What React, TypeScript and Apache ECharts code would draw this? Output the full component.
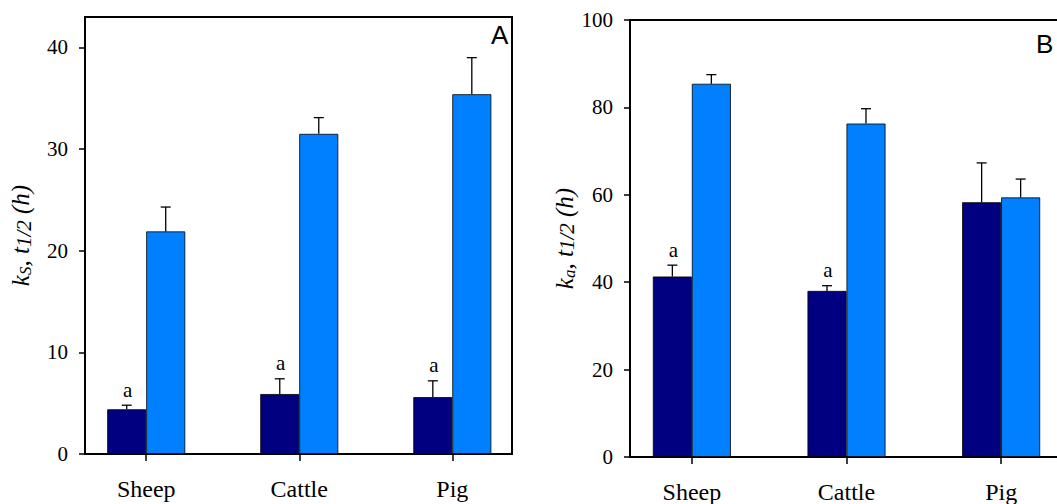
import React, { useEffect, useRef } from "react";
import * as echarts from "echarts";

const categories = ["Sheep", "Cattle", "Pig"];
const catPos = [1, 2, 3];

// Panel A: ks, t1/2 (h)
const ksDark = [4.4, 5.9, 5.6];
const ksDarkErr = [0.4, 1.5, 1.6];
const ksLight = [21.9, 31.5, 35.4];
const ksLightErr = [2.4, 1.6, 3.6];
const ksMarks = ["a", "a", "a"];
const ksTicks = [0, 10, 20, 30, 40];

// Panel B: ka, t1/2 (h)
const kaDark = [41.3, 38.0, 58.3];
const kaDarkErr = [2.6, 1.2, 9.0];
const kaLight = [85.4, 76.3, 59.4];
const kaLightErr = [2.1, 3.4, 4.2];
const kaMarks = ["a", "a", ""];
const kaTicks = [0, 20, 40, 60, 80, 100];

const SERIF = "Liberation Serif";
const SANS = "Liberation Sans";
const DARK = "#000080";
const LIGHT = "#0080ff";
const BAR_W = 39;

function nameRich() {
  return {
    k: { fontFamily: SERIF, fontStyle: "italic", fontSize: 25, color: "#000", lineHeight: 26, verticalAlign: "top" },
    s: { fontFamily: SERIF, fontStyle: "italic", fontSize: 17, color: "#000", lineHeight: 17, padding: [14, 0, 0, 0], verticalAlign: "bottom" },
    h: { fontFamily: SERIF, fontStyle: "italic", fontSize: 21, color: "#000", lineHeight: 21, padding: [10, 0, 0, 0], verticalAlign: "bottom" },
  };
}

function errSeries(xi: number, vals: number[], errs: number[], marks: string[] | null, offset: number) {
  return {
    type: "custom",
    xAxisIndex: xi,
    yAxisIndex: xi,
    z: 5,
    data: catPos.map((x, i) => [x, vals[i], errs[i]]),
    renderItem: (params: any, api: any) => {
      const x = api.value(0);
      const v = api.value(1);
      const e = api.value(2);
      const base = api.coord([x, v]);
      const top = api.coord([x, v + e]);
      const px = base[0] + offset;
      const children: any[] = [
        { type: "line", shape: { x1: px, y1: base[1], x2: px, y2: top[1] }, style: { stroke: "#000", lineWidth: 1.3 } },
        { type: "line", shape: { x1: px - 5, y1: top[1], x2: px + 5, y2: top[1] }, style: { stroke: "#000", lineWidth: 1.3 } },
      ];
      const m = marks ? marks[params.dataIndex] : "";
      if (m) {
        children.push({
          type: "text",
          style: { text: m, x: px + 1, y: top[1] - 5, align: "center", verticalAlign: "bottom", fontFamily: SERIF, fontSize: 21, fill: "#000" },
        });
      }
      return { type: "group", children };
    },
  };
}

function barSeries(xi: number, vals: number[], color: string) {
  return {
    type: "bar",
    xAxisIndex: xi,
    yAxisIndex: xi,
    barWidth: BAR_W,
    barGap: "0%",
    data: catPos.map((x, i) => [x, vals[i]]),
    itemStyle: { color, borderColor: "#000", borderWidth: 0.8 },
  };
}

function isNear(v: number, list: number[]) {
  return list.some((t) => Math.abs(v - t) < 1e-6);
}

function xAxisCfg(gi: number, max: number) {
  return {
    type: "value",
    gridIndex: gi,
    min: 0.6,
    max,
    axisLine: { show: true, onZero: false, lineStyle: { color: "#000", width: 2 } },
    axisTick: { show: true, length: 7, customValues: catPos, lineStyle: { color: "#000", width: 1.5 } },
    axisLabel: {
      show: true,
      showMinLabel: false,
      showMaxLabel: false,
      hideOverlap: false,
      formatter: (v: number) => (isNear(v, catPos) ? categories[Math.round(v) - 1] : ""),
      fontFamily: SERIF,
      fontSize: 24,
      color: "#000",
      margin: 23,
    },
    splitLine: { show: false },
  };
}

function yAxisCfg(gi: number, max: number, ticks: number[], name: string, gap: number) {
  return {
    type: "value",
    gridIndex: gi,
    min: 0,
    max,
    interval: ticks[1] - ticks[0],
    name,
    nameLocation: "middle",
    nameGap: gap,
    nameRotate: 90,
    nameTextStyle: { fontFamily: SERIF, fontStyle: "italic", fontSize: 25, rich: nameRich() },
    axisLine: { show: true, lineStyle: { color: "#000", width: 2 } },
    axisTick: { show: true, length: 6, customValues: ticks, lineStyle: { color: "#000", width: 1.5 } },
    axisLabel: {
      showMaxLabel: true,
      formatter: (v: number) => (isNear(v, ticks) ? String(Math.round(v)) : ""),
      fontFamily: SERIF,
      fontSize: 21,
      color: "#000",
      margin: 17,
    },
    splitLine: { show: false },
  };
}

export default function App() {
  const ref = useRef<HTMLDivElement>(null);
  useEffect(() => {
    if (!ref.current) return;
    const chart = echarts.init(ref.current, null, { renderer: "svg" });
    chart.setOption({
      animation: false,
      backgroundColor: "#fff",
      textStyle: { fontFamily: SERIF },
      grid: [
        { left: 85, top: 17, width: 427, height: 437, show: true, borderColor: "#000", borderWidth: 2, containLabel: false },
        { left: 630, top: 20, width: 433, height: 440, show: true, borderColor: "#000", borderWidth: 2, containLabel: false },
      ],
      xAxis: [xAxisCfg(0, 3.39), xAxisCfg(1, 3.4)],
      yAxis: [
        yAxisCfg(0, 43, ksTicks, "{k|k}{s|S}{k|, t}{h|1/2}{k| (h)}", 51),
        yAxisCfg(1, 100, kaTicks, "{k|k}{s|a}{k|, t}{h|1/2}{k| (h)}", 47),
      ],
      series: [
        barSeries(0, ksDark, DARK),
        barSeries(0, ksLight, LIGHT),
        errSeries(0, ksDark, ksDarkErr, ksMarks, -BAR_W / 2),
        errSeries(0, ksLight, ksLightErr, null, BAR_W / 2),
        barSeries(1, kaDark, DARK),
        barSeries(1, kaLight, LIGHT),
        errSeries(1, kaDark, kaDarkErr, kaMarks, -BAR_W / 2),
        errSeries(1, kaLight, kaLightErr, null, BAR_W / 2),
      ],
      graphic: [
        { type: "text", left: 491, top: 22, style: { text: "A", fontFamily: SANS, fontSize: 26, fill: "#000" } },
        { type: "text", left: 1036, top: 31, style: { text: "B", fontFamily: SANS, fontSize: 26, fill: "#000" } },
      ],
    });
    return () => chart.dispose();
  }, []);
  return (
    <div style={{ position: "fixed", left: 0, top: 0, width: 1057, height: 504, overflow: "hidden", background: "#fff" }}>
      <div ref={ref} style={{ width: 1080, height: 504 }} />
    </div>
  );
}
